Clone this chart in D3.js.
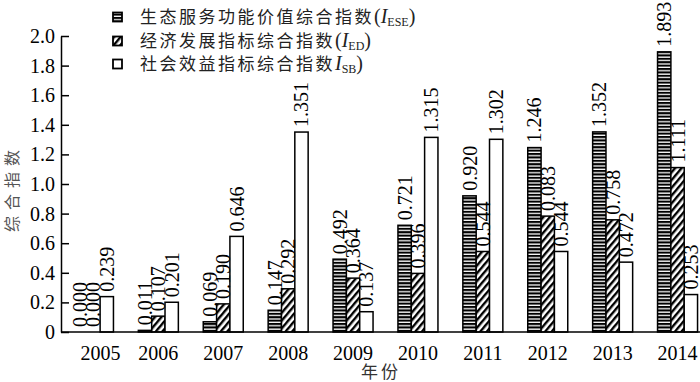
<!DOCTYPE html>
<html><head><meta charset="utf-8">
<script src="https://cdn.jsdelivr.net/npm/d3@7"></script>
<style>
html,body{margin:0;padding:0;background:#fff;}
svg{display:block;}
</style>
</head><body>
<svg id="chart" width="700" height="382"></svg>
<script>
const years = ["2005","2006","2007","2008","2009","2010","2011","2012","2013","2014"];
const eseValues = [0.000, 0.011, 0.069, 0.147, 0.492, 0.721, 0.920, 1.246, 1.352, 1.893];
const edValues  = [0.000, 0.107, 0.190, 0.292, 0.364, 0.396, 0.544, 0.783, 0.758, 1.111];
const sbValues  = [0.239, 0.201, 0.646, 1.351, 0.137, 1.315, 1.302, 0.544, 0.472, 0.253];
const edLabels  = ["0.000","0.107","0.190","0.292","0.364","0.396","0.544","0.083","0.758","1.111"];
const yTicks = [0, 0.2, 0.4, 0.6, 0.8, 1.0, 1.2, 1.4, 1.6, 1.8, 2.0];
const seriesKeys = ["ese","ed","sb"];

const svg = d3.select("#chart");
const serif = "'Liberation Serif','Times New Roman',serif";
const cjk = "'Noto Sans CJK SC','Noto Sans',sans-serif";

// patterns
const defs = svg.append("defs");
const pStripe = defs.append("pattern").attr("id","stripe").attr("patternUnits","userSpaceOnUse")
  .attr("width",6).attr("height",3.4);
pStripe.append("rect").attr("width",6).attr("height",3.4).attr("fill","#000");
pStripe.append("rect").attr("y",2.1).attr("width",6).attr("height",1.3).attr("fill","#fff");
const pHatch = defs.append("pattern").attr("id","hatch").attr("patternUnits","userSpaceOnUse")
  .attr("width",5).attr("height",10).attr("patternTransform","rotate(40)");
pHatch.append("rect").attr("width",5).attr("height",10).attr("fill","#fff");
pHatch.append("rect").attr("width",2.4).attr("height",10).attr("fill","#000");
const fills = {ese:"url(#stripe)", ed:"url(#hatch)", sb:"#fff"};

const data = years.map((y,i)=>({year:y, ese:eseValues[i], ed:edValues[i], sb:sbValues[i],
  labels:{ese:eseValues[i].toFixed(3), ed:edLabels[i], sb:sbValues[i].toFixed(3)}}));

const x0 = d3.scaleBand().domain(years).range([61, 710]).padding(0);
const x1 = d3.scaleBand().domain(seriesKeys).range([-20, 20]).padding(0);
const y = d3.scaleLinear().domain([0, 2]).range([332, 36]);

// bars
const groups = svg.append("g").selectAll("g").data(data).join("g")
  .attr("transform", d => `translate(${x0(d.year)+x0.bandwidth()/2},0)`);
groups.selectAll("rect").data(d => seriesKeys.map(k => ({k, v:d[k]}))).join("rect")
  .attr("x", d => x1(d.k)).attr("width", x1.bandwidth())
  .attr("y", d => y(d.v)).attr("height", d => y(0)-y(d.v))
  .attr("fill", d => fills[d.k]).attr("stroke","#000").attr("stroke-width",1.5);
groups.selectAll("text").data(d => seriesKeys.map(k => ({k, v:d[k], t:d.labels[k]}))).join("text")
  .attr("transform", d => `translate(${x1(d.k)+x1.bandwidth()/2},${y(d.v)-5}) rotate(-90)`)
  .attr("dy","0.35em").attr("text-anchor","start")
  .attr("font-family", serif).attr("font-size",20).attr("fill","#000")
  .text(d => d.t);

// y axis
const yAxis = d3.axisLeft(y).tickValues(yTicks).tickSizeInner(-8).tickSizeOuter(0).tickPadding(6)
  .tickFormat(d => d===0 ? "0" : d3.format(".1f")(d));
const gy = svg.append("g").attr("transform","translate(61,0)").call(yAxis);
gy.selectAll("path,line").attr("stroke","#000").attr("stroke-width",1.5);
gy.selectAll("text").attr("font-family",serif).attr("font-size",20).attr("fill","#000");

// x axis
const xAxis = d3.axisBottom(x0).tickSize(0).tickPadding(14);
const gx = svg.append("g").attr("transform","translate(0,332)").call(xAxis);
gx.select(".domain").attr("d","M61,0H700").attr("stroke","#000").attr("stroke-width",1.5);
gx.selectAll("text").attr("font-family",serif).attr("font-size",20).attr("fill","#000");
gx.selectAll(".tick").filter(d => d==="2005").select("text").attr("x",7);

// axis titles
svg.append("text").attr("transform","translate(12,188) rotate(-90)")
  .attr("text-anchor","middle").attr("dy","0.35em").attr("font-family",cjk).attr("font-size",16)
  .attr("letter-spacing",6).attr("fill","#555").text("综合指数");
svg.append("text").attr("x",381).attr("y",378)
  .attr("text-anchor","middle").attr("font-family",cjk).attr("font-size",17)
  .attr("letter-spacing",3).attr("fill","#333").text("年份");

// legend
const legendItems = [
  {k:"ese", cn:"生态服务功能价值综合指数", open:"(", sub:"ESE"},
  {k:"ed", cn:"经济发展指标综合指数", open:"(", sub:"ED"},
  {k:"sb", cn:"社会效益指标综合指数", open:"", sub:"SB"}
];
const legendY = [17, 41, 64];
const lg = svg.append("g");
legendItems.forEach((it,i) => {
  const cy = legendY[i];
  lg.append("rect").attr("x",113).attr("y",cy-4.5).attr("width",9).attr("height",9)
    .attr("fill",fills[it.k]).attr("stroke","#000").attr("stroke-width",1.8);
  const t = lg.append("text").attr("x",140).attr("y",cy).attr("dy","0.36em")
    .attr("font-size",17).attr("fill","#222");
  t.append("tspan").attr("font-family",cjk).attr("letter-spacing",2.5).text(it.cn);
  t.append("tspan").attr("font-family",serif).attr("font-size",20).text(it.open);
  t.append("tspan").attr("font-family",serif).attr("font-size",20).attr("font-style","italic").text("I");
  t.append("tspan").attr("font-family",serif).attr("font-size",12).attr("dy",3).text(it.sub);
  t.append("tspan").attr("font-family",serif).attr("font-size",20).attr("dy",-3).text(")");
});
</script>
</body></html>
